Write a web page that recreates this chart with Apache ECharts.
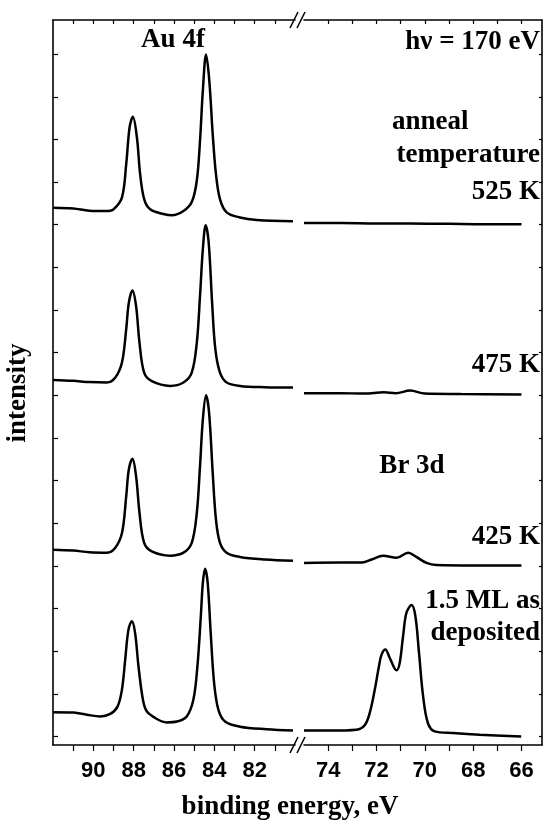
<!DOCTYPE html>
<html>
<head>
<meta charset="utf-8">
<script src="https://cdn.jsdelivr.net/npm/echarts@6/dist/echarts.min.js"></script>
<style>
  html, body { margin: 0; padding: 0; background: #fff; }
  #container { width: 544px; height: 823px; }
</style>
</head>
<body>
<div id="container"></div>
<script>
// binding energy (eV), intensity (arb. units, stacked offsets)
// Au 4f window
const au525 = [[92,12.40],[91,12.38],[90.2,12.33],[89.33,12.32],[89.0,12.36],[88.58,12.64],[88.37,13.42],[88.2,14.29],[88.04,14.53],[87.84,14.05],[87.68,13.19],[87.48,12.60],[87.18,12.36],[86.52,12.25],[86.1,12.22],[85.53,12.32],[85.12,12.53],[84.87,13.03],[84.71,13.97],[84.57,15.14],[84.41,15.99],[84.25,15.38],[84.08,14.12],[83.92,13.19],[83.72,12.60],[83.39,12.29],[82.73,12.17],[81.9,12.11],[80.1,12.08]];
const au475 = [[92,8.36],[91,8.34],[90.2,8.31],[89.33,8.30],[88.92,8.41],[88.58,8.77],[88.37,9.55],[88.24,10.17],[88.06,10.46],[87.88,10.09],[87.71,9.23],[87.48,8.53],[87.1,8.33],[86.19,8.22],[85.53,8.30],[85.12,8.53],[84.87,9.23],[84.71,10.33],[84.57,11.42],[84.43,11.99],[84.28,11.58],[84.11,10.17],[83.95,9.08],[83.72,8.53],[83.39,8.30],[82.73,8.22],[81.5,8.19],[80.1,8.18]];
const au425 = [[92,4.38],[91,4.36],[90.2,4.32],[89.33,4.31],[88.92,4.42],[88.58,4.77],[88.37,5.63],[88.24,6.26],[88.06,6.51],[87.88,6.10],[87.71,5.24],[87.48,4.54],[87.1,4.34],[86.19,4.24],[85.53,4.31],[85.12,4.54],[84.87,5.24],[84.71,6.34],[84.57,7.43],[84.41,8.00],[84.26,7.59],[84.08,6.18],[83.92,5.09],[83.72,4.54],[83.39,4.31],[82.73,4.21],[81.5,4.15],[80.1,4.12]];
const auDep = [[92,0.57],[90.98,0.56],[90.32,0.51],[89.66,0.47],[89.16,0.53],[88.8,0.70],[88.58,1.10],[88.42,1.80],[88.26,2.50],[88.09,2.70],[87.93,2.43],[87.76,1.64],[87.54,0.86],[87.35,0.59],[86.85,0.41],[86.36,0.33],[85.86,0.35],[85.37,0.47],[85.04,0.86],[84.84,1.64],[84.67,2.82],[84.57,3.60],[84.46,3.93],[84.33,3.60],[84.18,2.43],[84.01,1.25],[83.8,0.63],[83.47,0.35],[82.73,0.23],[81.41,0.17],[80.1,0.14]];

// Br 3d window
const br525 = [[75,12.04],[73.5,12.04],[72,12.03],[70.6,12.03],[69,12.02],[67.5,12.01],[66,12.01]];
const br475 = [[75,8.05],[73.5,8.05],[72.5,8.04],[71.7,8.07],[71.2,8.05],[70.6,8.11],[70.0,8.04],[68.5,8.03],[66,8.02]];
const br425 = [[75,4.07],[73.5,4.08],[72.6,4.08],[72.2,4.15],[71.73,4.24],[71.17,4.19],[70.69,4.31],[70.35,4.21],[69.93,4.07],[69.52,4.02],[68,4.01],[66,4.01]];
const brDep = [[75,0.14],[73.93,0.14],[72.83,0.16],[72.48,0.27],[72.28,0.55],[72.07,1.10],[71.9,1.64],[71.79,1.92],[71.63,2.04],[71.45,1.84],[71.17,1.55],[71.04,1.72],[70.9,2.35],[70.76,2.90],[70.55,3.08],[70.39,2.82],[70.24,1.96],[70.07,0.94],[69.87,0.31],[69.59,0.12],[68.83,0.08],[67.73,0.04],[66.01,0.00]];

const leftTicks = [81,82,83,84,85,86,87,88,89,90,91];
const leftLabels = [82,84,86,88,90];
const rightTicks = [66,67,68,69,70,71,72,73,74];
const rightLabels = [66,68,70,72,74];
const yTicks = [0,1,2,3,4,5,6,7,8,9,10,11,12,13,14,15,16];

const SERIF = '"Liberation Serif", "Times New Roman", serif';
const SANS = '"Liberation Sans", Arial, sans-serif';

var chart = echarts.init(document.getElementById('container'));

function xAx(grid, min, max, ticks, labels, top) {
    return {
        type: 'value', gridIndex: grid, min: min, max: max, inverse: true,
        position: top ? 'top' : 'bottom',
        axisLine: { show: true, onZero: false, lineStyle: { color: '#000', width: 1.6 } },
        axisTick: { show: true, inside: !!top, length: top ? 4 : 6, customValues: ticks,
                    lineStyle: { color: '#000', width: 1.2 } },
        axisLabel: { show: !top, customValues: labels, margin: 15,
                     color: '#000', fontFamily: SANS, fontWeight: 'bold', fontSize: 22 },
        splitLine: { show: false }
    };
}
function yAx(grid, right) {
    return {
        type: 'value', gridIndex: grid, min: -0.2, max: 16.8,
        position: right ? 'right' : 'left',
        axisLine: { show: true, lineStyle: { color: '#000', width: 1.6 } },
        axisTick: { show: true, inside: true, length: right ? 3 : 5, customValues: yTicks,
                    lineStyle: { color: '#000', width: 1.2 } },
        axisLabel: { show: false },
        splitLine: { show: false }
    };
}
function line(data, xi, yi) {
    return { type: 'line', data: data, xAxisIndex: xi, yAxisIndex: yi,
             showSymbol: false, smooth: 0.35, silent: true,
             lineStyle: { color: '#000', width: 2.5 } };
}
function txt(s, x, y, align, size) {
    return { type: 'text', x: x, y: y, silent: true,
             style: { text: s, fill: '#000', align: align || 'left', verticalAlign: 'middle',
                      font: 'bold ' + (size || 27) + 'px ' + SERIF } };
}
function slash(x, y) {
    return { type: 'line', silent: true, shape: { x1: x - 4, y1: y + 8, x2: x + 4, y2: y - 8 },
             style: { stroke: '#000', lineWidth: 1.6 } };
}

chart.setOption({
    animation: false,
    backgroundColor: '#fff',
    grid: [
        { left: 53, right: 249, top: 20, bottom: 78 },
        { left: 304, right: 2, top: 20, bottom: 78 }
    ],
    xAxis: [
        xAx(0, 80, 92, leftTicks, leftLabels, false),
        xAx(0, 80, 92, leftTicks, leftLabels, true),
        xAx(1, 65.15, 75, rightTicks, rightLabels, false),
        xAx(1, 65.15, 75, rightTicks, rightLabels, true)
    ],
    yAxis: [ yAx(0, false), yAx(1, true) ],
    series: [
        line(au525, 0, 0), line(au475, 0, 0), line(au425, 0, 0), line(auDep, 0, 0),
        line(br525, 2, 1), line(br475, 2, 1), line(br425, 2, 1), line(brDep, 2, 1)
    ],
    graphic: [
        { type: 'rect', silent: true, shape: { x: 295, y: 10, width: 9, height: 20 }, style: { fill: '#fff' } },
        { type: 'rect', silent: true, shape: { x: 295, y: 735, width: 9, height: 20 }, style: { fill: '#fff' } },
        slash(294, 20), slash(301, 20), slash(294, 745), slash(301, 745),
        txt('Au 4f', 173, 40, 'center'),
        txt('h\u03bd = 170 eV', 540, 42, 'right'),
        txt('anneal', 392, 122, 'left'),
        txt('temperature', 540, 155, 'right'),
        txt('525 K', 540, 192, 'right'),
        txt('475 K', 540, 365, 'right'),
        txt('Br 3d', 412, 466, 'center'),
        txt('425 K', 540, 537, 'right'),
        txt('1.5 ML as', 540, 601, 'right'),
        txt('deposited', 540, 633, 'right'),
        txt('binding energy, eV', 290, 807, 'center'),
        { type: 'text', x: 18, y: 393, rotation: Math.PI / 2, silent: true,
          style: { text: 'intensity', fill: '#000', align: 'center', verticalAlign: 'middle',
                   font: 'bold 27px ' + SERIF } }
    ]
});
</script>
</body>
</html>
